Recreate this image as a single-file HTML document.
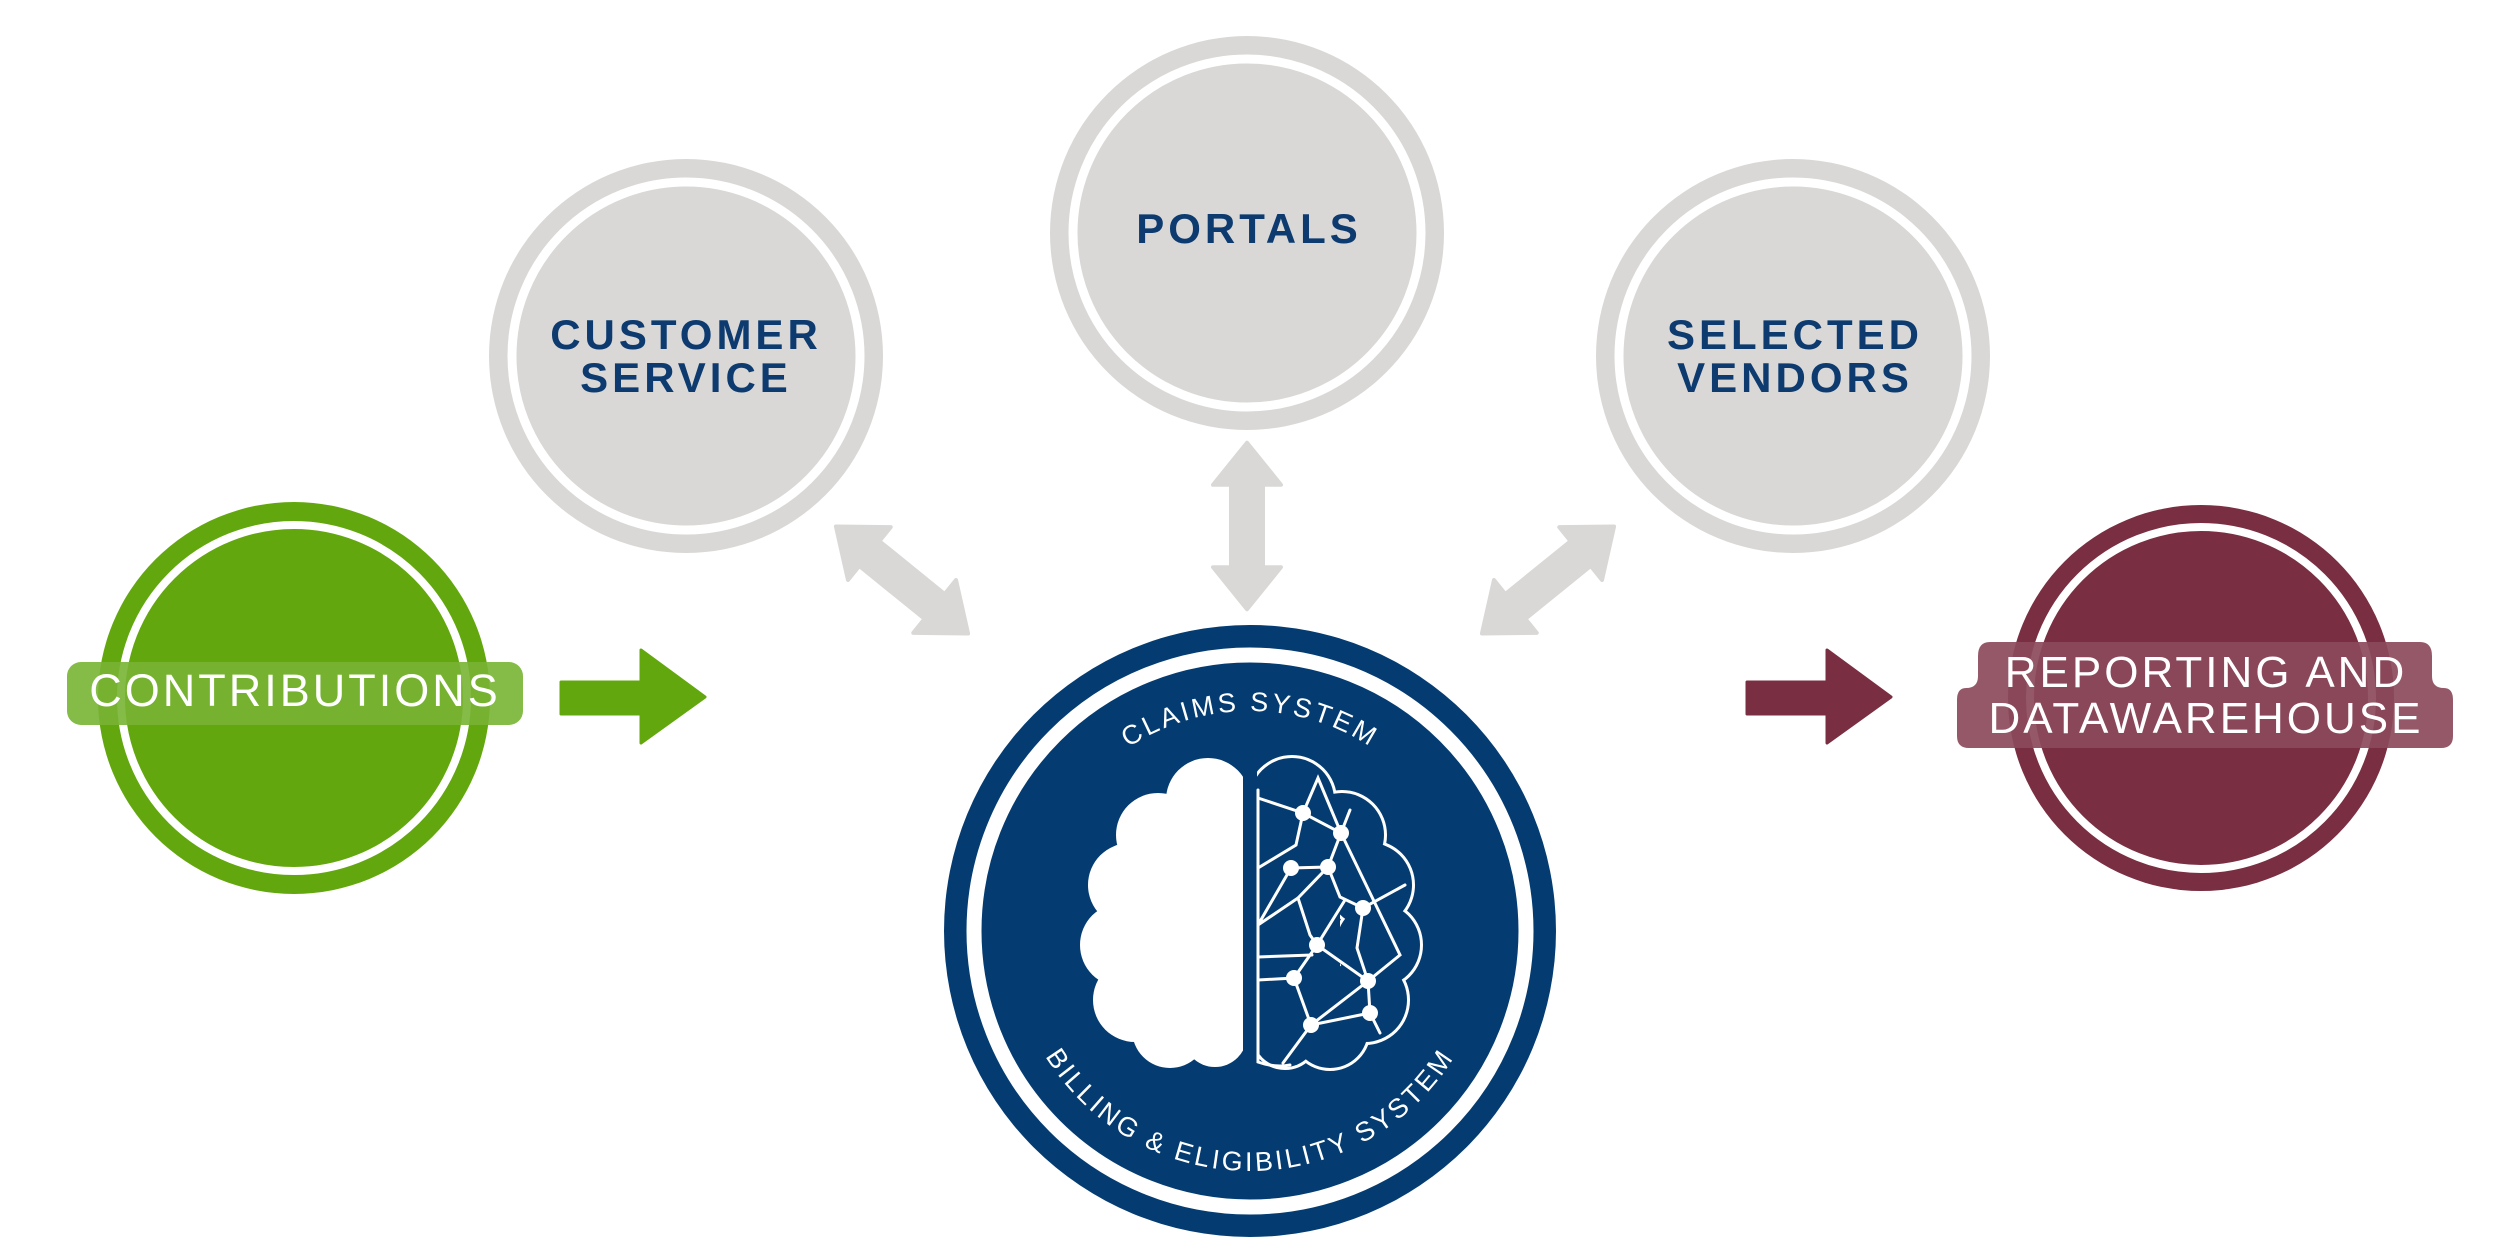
<!DOCTYPE html>
<html><head><meta charset="utf-8"><style>
html,body{margin:0;padding:0;background:#fff;}
svg{display:block;}
text{font-family:"Liberation Sans",sans-serif;}
</style></head><body>
<svg width="2500" height="1250" viewBox="0 0 2500 1250" xmlns="http://www.w3.org/2000/svg">
<defs>
<polygon id="dbl" points="-85,0 -42,-34 -42,-16 42,-16 42,-34 85,0 42,34 42,16 -42,16 -42,34" fill="#d9d8d6" stroke="#d9d8d6" stroke-width="4" stroke-linejoin="round"/>
<clipPath id="lclip"><rect x="1000" y="700" width="243" height="420"/></clipPath>
<clipPath id="rclip"><rect x="1257" y="700" width="243" height="420"/></clipPath>
<path id="topArc" d="M 1030,931 A 220,220 0 0 1 1470,931"/>
<path id="botArc" d="M 1010,931 A 240,240 0 0 0 1490,931"/>
</defs>

<g>
<circle cx="686" cy="356" r="197" fill="#d9d8d6"/><circle cx="686" cy="356" r="174" fill="none" stroke="#fff" stroke-width="9"/>
<circle cx="1247" cy="233" r="197" fill="#d9d8d6"/><circle cx="1247" cy="233" r="174" fill="none" stroke="#fff" stroke-width="9"/>
<circle cx="1793" cy="356" r="197" fill="#d9d8d6"/><circle cx="1793" cy="356" r="174" fill="none" stroke="#fff" stroke-width="9"/>
</g>
<g fill="#0d3b70" font-weight="bold" font-size="42" text-anchor="middle" letter-spacing="4">
<text x="686" y="349">CUSTOMER</text><text x="686" y="392">SERVICE</text>
<text x="1249" y="243">PORTALS</text>
<text x="1795" y="349">SELECTED</text><text x="1795" y="392">VENDORS</text>
</g>

<use href="#dbl" transform="translate(902,580) rotate(39)"/>
<use href="#dbl" transform="translate(1247,526) rotate(90) scale(0.98,1)"/>
<use href="#dbl" transform="translate(1548,580) rotate(141)"/>

<circle cx="294" cy="698" r="196" fill="#63a70e"/>
<circle cx="294" cy="698" r="173" fill="none" stroke="#fff" stroke-width="8"/>
<rect x="67" y="662" width="456" height="63" rx="14" fill="#78b433" opacity="0.9"/>
<text x="295" y="706" fill="#fff" font-size="45" text-anchor="middle" letter-spacing="3">CONTRIBUTIONS</text>
<polygon points="561,682 641,682 641,650 705,697 641,743 641,714 561,714" fill="#63a70e" stroke="#63a70e" stroke-width="3" stroke-linejoin="round"/>

<circle cx="2201" cy="698" r="193" fill="#792e42"/>
<circle cx="2201" cy="698" r="171" fill="none" stroke="#fff" stroke-width="8"/>
<path d="M1990,642 H2420 Q2432,642 2432,656 V676 Q2432,688 2444,688 Q2453,688 2453,700 V736 Q2453,748 2441,748 H1969 Q1957,748 1957,736 V700 Q1957,688 1966,688 Q1978,688 1978,676 V656 Q1978,642 1990,642 Z" fill="#8b4a5b" opacity="0.92"/>
<g fill="#fff" font-size="44" text-anchor="middle" letter-spacing="3">
<text x="2206" y="687">REPORTING AND</text><text x="2206" y="733">DATAWAREHOUSE</text>
</g>
<polygon points="1747,682 1827,682 1827,650 1891,697 1827,743 1827,714 1747,714" fill="#792e42" stroke="#792e42" stroke-width="3" stroke-linejoin="round"/>

<circle cx="1250" cy="931" r="306" fill="#043c72"/>
<circle cx="1250" cy="931" r="276" fill="none" stroke="#fff" stroke-width="15"/>
<text fill="#fff" font-size="27" letter-spacing="3"><textPath href="#topArc" startOffset="50%" text-anchor="middle">CLAIMS SYSTEM</textPath></text>
<text fill="#fff" font-size="27" letter-spacing="3"><textPath href="#botArc" startOffset="50%" text-anchor="middle">BILLING &amp; ELIGIBILITY SYSTEM</textPath></text>

<g fill="#fff" clip-path="url(#lclip)">
<circle cx="1208" cy="800" r="42"/><circle cx="1158" cy="835" r="42"/><circle cx="1130" cy="885" r="42"/>
<circle cx="1122" cy="945" r="42"/><circle cx="1135" cy="1000" r="42"/><circle cx="1170" cy="1030" r="38"/><circle cx="1215" cy="1035" r="32"/>
<rect x="1135" y="820" width="115" height="200"/>
<rect x="1160" y="805" width="90" height="230"/>
</g>
<g clip-path="url(#rclip)">
<g fill="none" stroke="#fff" stroke-width="6">
<circle cx="1292" cy="800" r="42"/><circle cx="1342" cy="835" r="42"/><circle cx="1370" cy="885" r="42"/>
<circle cx="1378" cy="945" r="42"/><circle cx="1365" cy="1000" r="42"/><circle cx="1330" cy="1030" r="38"/><circle cx="1285" cy="1035" r="32"/>
</g>
<g fill="#043c72">
<circle cx="1292" cy="800" r="42"/><circle cx="1342" cy="835" r="42"/><circle cx="1370" cy="885" r="42"/>
<circle cx="1378" cy="945" r="42"/><circle cx="1365" cy="1000" r="42"/><circle cx="1330" cy="1030" r="38"/><circle cx="1285" cy="1035" r="32"/>
<rect x="1250" y="805" width="90" height="230"/>
</g>
</g>
<g stroke="#fff" stroke-width="3" fill="none" stroke-linecap="round">
<path d="M1258,790 V1062 Q1275,1068 1290,1065"/>
<path d="M1258,798 L1303,813 L1341,833 L1318,778 L1303,813 L1296,845 L1258,868"/>
<path d="M1341,833 L1328,867 L1291,868 L1258,925 L1298,898 L1328,867 L1340,897 L1363,908 L1405,885"/>
<path d="M1341,833 L1400,955 L1368,981 L1317,945 L1294,978 L1258,980"/>
<path d="M1298,898 L1310,935 L1317,945 L1345,900"/>
<path d="M1363,908 L1357,948 L1368,981 L1370,1013 L1311,1025 L1294,978"/>
<path d="M1368,981 L1311,1025 L1283,1063"/>
<path d="M1258,957 L1312,955"/>
<path d="M1370,1013 L1380,1033"/>
<path d="M1350,810 L1341,833"/>
</g>
<g fill="#fff">
<circle cx="1303" cy="813" r="8"/><circle cx="1341" cy="833" r="8"/><circle cx="1291" cy="868" r="8"/><circle cx="1328" cy="867" r="8"/>
<circle cx="1363" cy="908" r="8"/><circle cx="1317" cy="945" r="8"/><circle cx="1294" cy="978" r="8"/><circle cx="1368" cy="981" r="8"/>
<circle cx="1311" cy="1025" r="8"/><circle cx="1370" cy="1013" r="8"/>
</g>
</svg>
</body></html>
